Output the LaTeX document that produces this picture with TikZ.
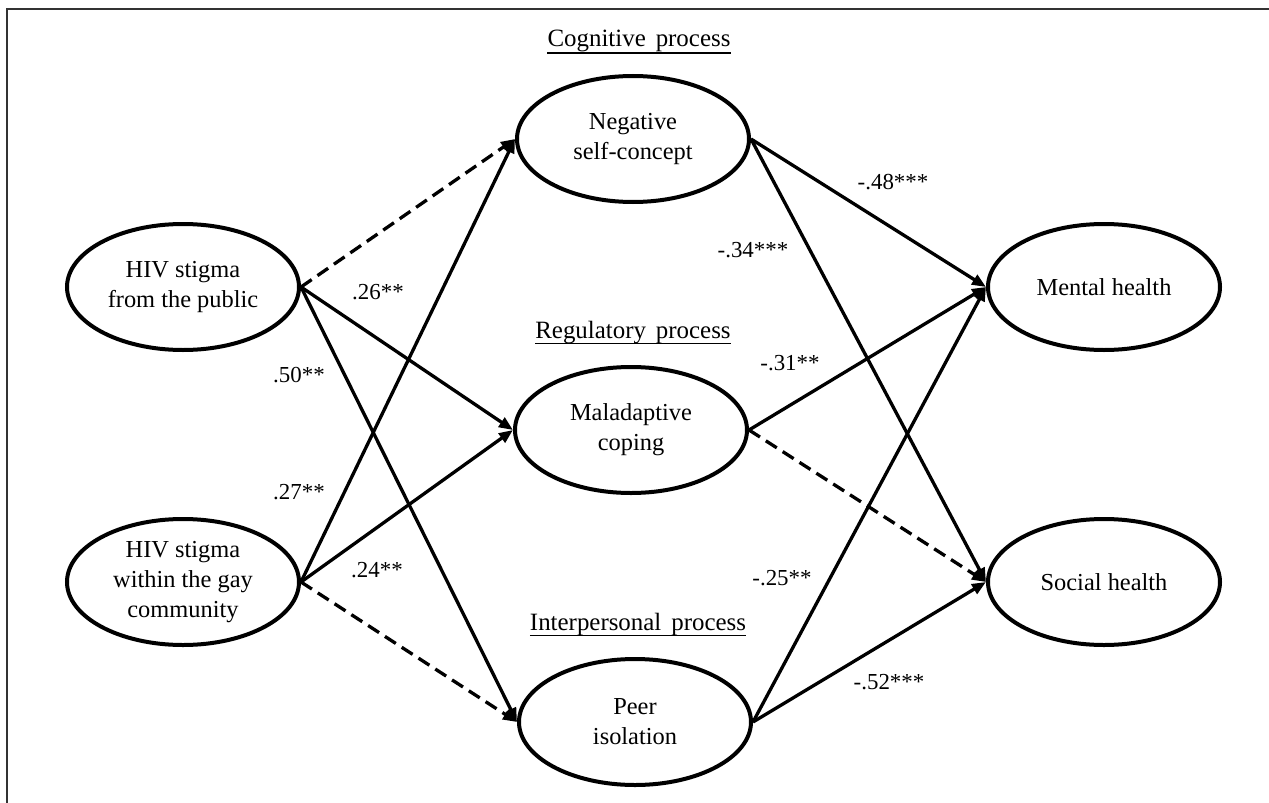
\documentclass[tikz,border=0pt]{standalone}
\usepackage{fontspec}
\setmainfont{Liberation Serif}
\usetikzlibrary{arrows.meta,shapes.geometric}
\begin{document}
\begin{tikzpicture}[x=1bp,y=-1bp,
  lat/.style={draw=black, line width=4bp, ellipse, minimum width=232bp, minimum height=126bp, inner sep=0pt, align=center, font=\fontsize{24.5}{30}\selectfont},
  arr/.style={line width=3.3bp, -{Triangle[length=14bp,width=11bp]}},
  nsarr/.style={arr, dash pattern=on 13bp off 7bp},
  coef/.style={font=\fontsize{23}{28}\selectfont, inner sep=0pt},
  proc/.style={font=\fontsize{25}{30}\selectfont, inner sep=0pt, anchor=base},
  ul/.style={line width=1.5bp},
  frame/.style={draw=black!80, line width=2bp}
]
\useasboundingbox (0,0) rectangle (1269,803);
\draw[frame] (7,803) -- (7,9) -- (1269,9);

% nodes
\node[lat] (pub) at (183,287) {HIV stigma\\from the public};
\node[lat] (gay) at (183,582) {HIV stigma\\within the gay\\community};
\node[lat] (neg) at (633,139) {Negative\\self-concept};
\node[lat] (mal) at (631,430) {Maladaptive\\coping};
\node[lat] (peer) at (635,722) {Peer\\isolation};
\node[lat] (men) at (1104,287) {Mental health};
\node[lat] (soc) at (1104,582) {Social health};

% process labels
\node[proc] (cog) at (639,47) {Cognitive\hspace{.4em}process};
\draw[ul] ([yshift=-6bp]cog.base west) -- ([yshift=-6bp]cog.base east);
\node[proc] (reg) at (633,338) {Regulatory\hspace{.4em}process};
\draw[ul] ([yshift=-5.5bp]reg.base west) -- ([yshift=-5.5bp]reg.base east);
\node[proc] (inter) at (638,630) {Interpersonal\hspace{.4em}process};
\draw[ul] ([yshift=-5.5bp]inter.base west) -- ([yshift=-5.5bp]inter.base east);

% paths
\draw[nsarr] (pub.east) -- (neg.west);
\draw[arr] (pub.east) -- (mal.west);
\draw[arr] (pub.east) -- (peer.west);
\draw[arr] (gay.east) -- (neg.west);
\draw[arr] (gay.east) -- (mal.west);
\draw[nsarr] (gay.east) -- (peer.west);
\draw[arr] (neg.east) -- (men.west);
\draw[arr] (neg.east) -- (soc.west);
\draw[arr] (mal.east) -- (men.west);
\draw[nsarr] (mal.east) -- (soc.west);
\draw[arr] (peer.east) -- (men.west);
\draw[arr] (peer.east) -- (soc.west);

% coefficients
\node[coef] (c26) at (378,292) {.26**};
\node[coef] (c50) at (299,375) {.50**};
\node[coef] (c27) at (299,492) {.27**};
\node[coef] (c24) at (377,570) {.24**};
\node[coef] (c48) at (893,182) {-.48***};
\node[coef] (c34) at (753,250) {-.34***};
\node[coef] (c31) at (790,363) {-.31**};
\node[coef] (c25) at (782,578) {-.25**};
\node[coef] (c52) at (889,682) {-.52***};
\end{tikzpicture}
\end{document}
